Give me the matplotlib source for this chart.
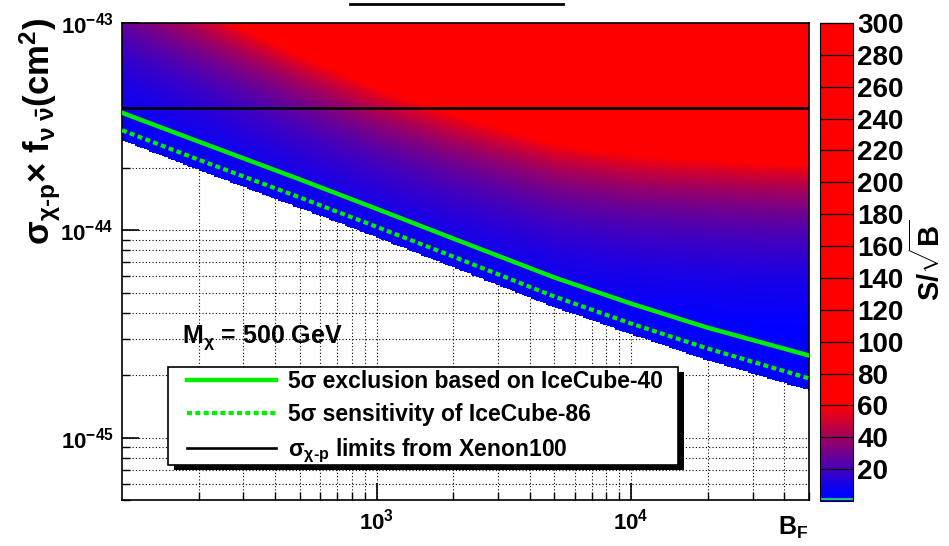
import numpy as np
import matplotlib
matplotlib.use('Agg')
import matplotlib.pyplot as plt
from matplotlib.colors import LinearSegmentedColormap, Normalize
from matplotlib.lines import Line2D
from matplotlib.patches import Rectangle
from matplotlib.ticker import LogLocator, NullFormatter

plt.rcParams['font.family'] = ['Liberation Sans', 'DejaVu Sans']
plt.rcParams['font.weight'] = 'bold'
plt.rcParams['mathtext.fontset'] = 'custom'
plt.rcParams['mathtext.rm'] = 'Liberation Sans:bold'
plt.rcParams['mathtext.bf'] = 'Liberation Sans:bold'
plt.rcParams['mathtext.it'] = 'Liberation Sans:bold:italic'
plt.rcParams['mathtext.sf'] = 'Liberation Sans:bold'

# boost factor values and cross-section curves
bf = [100, 200, 500, 1000, 2000, 5000, 1e4, 2e4, 5e4]
ic40 = [3.69e-44, 2.68e-44, 1.76e-44, 1.27e-44, 9.13e-45, 5.92e-45, 4.43e-45, 3.39e-45, 2.49e-45]
ic86 = [3.04e-44, 2.19e-44, 1.44e-44, 1.04e-44, 7.47e-45, 4.79e-45, 3.55e-45, 2.69e-45, 1.93e-45]
# lower edge of the filled S/sqrt(B) map
fill_edge = [2.72e-44, 1.95e-44, 1.28e-44, 9.25e-45, 6.62e-45, 4.25e-45, 3.15e-45, 2.36e-45, 1.69e-45]
# S/sqrt(B) on the IceCube-40 curve (estimated from the colours)
snr_on_ic40 = [7.6, 8.5, 10.0, 10.5, 10.0, 8.7, 7.0, 5.3, 3.8]
snr_slope = 1.3      # growth of S/sqrt(B) with cross-section (log-log)
xenon = 3.88e-44
cbar_ticks = list(range(20, 301, 20))

# S/sqrt(B) map built from the curves above
lx = np.log10(bf)
xs = np.logspace(2, np.log10(5e4), 400)
ys = np.logspace(np.log10(5e-46), -43, 400)
sig_line = 10 ** np.interp(np.log10(xs), lx, np.log10(ic40))
sig_edge = 10 ** np.interp(np.log10(xs), lx, np.log10(fill_edge))
snr_line = np.interp(np.log10(xs), lx, snr_on_ic40)
Z = snr_line[None, :] * (ys[:, None] / sig_line[None, :]) ** snr_slope
Z = np.ma.masked_where(ys[:, None] < sig_edge[None, :], Z)

cmap = LinearSegmentedColormap.from_list(
    'br', [(0, (0, 0, 1)), (5 / 300, (0, 0, 1)), (60 / 300, (1, 0, 0)), (1, (1, 0, 0))])

fig = plt.figure(figsize=(9.49, 5.46), dpi=100)
ax = fig.add_axes([122 / 949, 46 / 546, 687 / 949, 477 / 546])
cax = fig.add_axes([820 / 949, 45 / 546, 33 / 949, 478 / 546])

mesh = ax.pcolormesh(xs, ys, Z, cmap=cmap, norm=Normalize(0, 300), shading='auto', zorder=1)
ax.set_xscale('log')
ax.set_yscale('log')
ax.set_xlim(100, 5e4)
ax.set_ylim(5e-46, 1e-43)

l1, = ax.plot(bf, ic40, color='#00ee00', lw=3.2, zorder=3)
l2, = ax.plot(bf, ic86, color='#00ee00', lw=3, ls=(0, (1.2, 0.8)), zorder=3)
l3 = ax.axhline(xenon, color='black', lw=1.9, zorder=3)

ax.set_xticks([1e3, 1e4])
ax.set_xticklabels([r'$\mathrm{10^{3}}$', r'$\mathrm{10^{4}}$'])
ax.xaxis.set_minor_locator(LogLocator(base=10, subs=np.arange(2, 10)))
ax.xaxis.set_minor_formatter(NullFormatter())
ax.set_yticks([1e-45, 1e-44, 1e-43])
ax.set_yticklabels([r'$\mathrm{10^{-45}}$', r'$\mathrm{10^{-44}}$', r'$\mathrm{10^{-43}}$'])
ax.yaxis.set_minor_locator(LogLocator(base=10, subs=np.arange(2, 10)))
ax.yaxis.set_minor_formatter(NullFormatter())
ax.tick_params(which='major', direction='in', length=12, width=1.2, labelsize=16, pad=6)
ax.tick_params(which='minor', direction='in', length=6, width=1.0)
ax.grid(True, which='both', color='black', ls=(0, (1, 2)), lw=0.8)
ax.set_axisbelow(True)
for s in ax.spines.values():
    s.set_linewidth(1.2)

ax.text(60 / 687, 1 - (338 - 23) / 477, r'M$_\mathrm{χ}$ = 500 GeV',
        transform=ax.transAxes, fontsize=18, fontweight='bold', va='center', ha='left')

# legend box with ROOT-like solid shadow
bx0, bx1 = 46 / 687, 556 / 687
by0, by1 = 1 - (465 - 23) / 477, 1 - (367 - 23) / 477
ax.add_patch(Rectangle((bx0 + 6 / 687, by0 - 5 / 477), bx1 - bx0, by1 - by0,
                       transform=ax.transAxes, facecolor='black', edgecolor='none',
                       zorder=5, clip_on=False))
ax.add_patch(Rectangle((bx0, by0), bx1 - bx0, by1 - by0, transform=ax.transAxes,
                       facecolor='white', edgecolor='black', lw=1.2, zorder=5.1, clip_on=False))
leg = ax.legend([l1, l2, l3],
                ['5σ exclusion based on IceCube-40', '5σ sensitivity of IceCube-86',
                 r'$\mathrm{σ_{χ\text{-}p}}$ limits from Xenon100'],
                loc='upper left', bbox_to_anchor=(65 / 687, 1 - (370 - 23) / 477),
                borderaxespad=0, borderpad=0, frameon=False,
                handlelength=3.9, handletextpad=0.5, labelspacing=0.45,
                prop={'weight': 'bold', 'size': 16.5})
leg.set_zorder(6)

cb = fig.colorbar(mesh, cax=cax, ticks=cbar_ticks)
cb.outline.set_linewidth(0.8)
cax.tick_params(direction='in', length=23.5, width=0.9, color='black', labelsize=20, pad=3)
cax.axhline(1.5, color='#20c080', lw=1.5)

fig.text(40 / 949, 1 - 18 / 546, r'$\mathrm{σ_{χ\text{-}p}×\ f_{ν\;\bar{ν}}(cm^{2})}$',
         rotation=90, ha='center', va='top', fontsize=25)
fig.text(928 / 949, 1 - 260 / 546, r'$\mathrm{S/\sqrt{B}}$', rotation=90,
         ha='center', va='center', fontsize=21)
fig.text(808 / 949, 1 - 535 / 546, r'$\mathrm{B_{F}}$', ha='right', va='baseline', fontsize=18)
fig.add_artist(Line2D([350 / 949, 563 / 949], [1 - 4 / 546, 1 - 4 / 546],
                      color='black', lw=2, transform=fig.transFigure))

fig.savefig('out.png', dpi=100)
